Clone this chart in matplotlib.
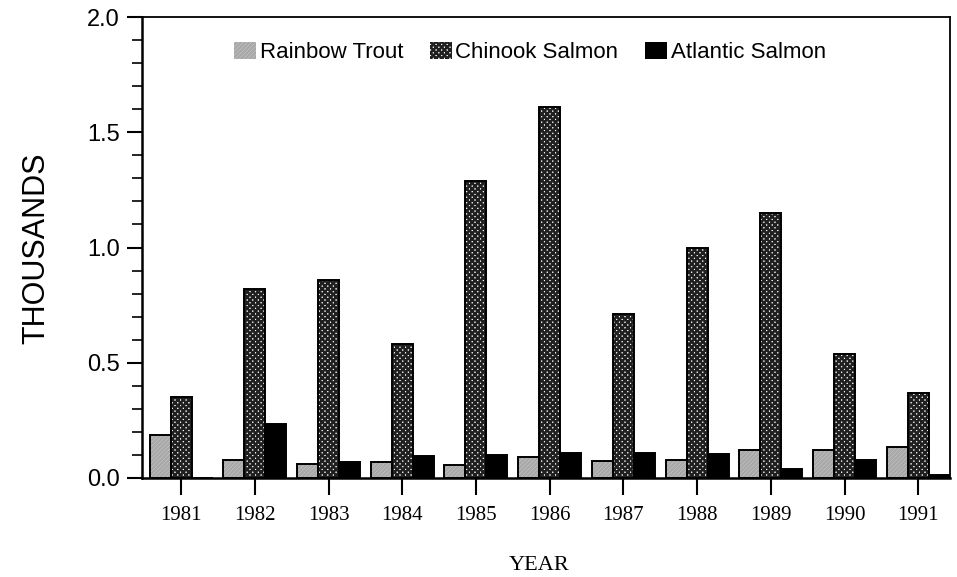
import matplotlib
matplotlib.use("Agg")
import matplotlib.pyplot as plt
import numpy as np
from matplotlib.ticker import MultipleLocator

years = ["1981", "1982", "1983", "1984", "1985", "1986", "1987", "1988", "1989", "1990", "1991"]
rainbow_trout = [0.187, 0.078, 0.060, 0.070, 0.056, 0.090, 0.074, 0.078, 0.120, 0.120, 0.135]
chinook_salmon = [0.35, 0.82, 0.86, 0.58, 1.29, 1.61, 0.71, 1.00, 1.15, 0.54, 0.37]
atlantic_salmon = [0.0, 0.234, 0.068, 0.095, 0.100, 0.108, 0.108, 0.105, 0.040, 0.080, 0.015]
series_names = ["Rainbow Trout", "Chinook Salmon", "Atlantic Salmon"]

plt.rcParams['hatch.linewidth'] = 1.8

fig = plt.figure(figsize=(9.57, 5.77), dpi=100)
ax = fig.add_axes([0.1484, 0.1716, 0.8443, 0.7989])

x = np.arange(len(years))
w = 0.285
styles = [
    dict(face="#d0d0d0", hatch="////////", hcol="#a8a8a8"),
    dict(face="#ffffff", hatch="xxxxxx", hcol="#202020"),
    dict(face="#000000", hatch=None, hcol="#000000"),
]
data = [rainbow_trout, chinook_salmon, atlantic_salmon]
handles = []
for i, (vals, st, name) in enumerate(zip(data, styles, series_names)):
    pos = x + (i - 1) * w
    ax.bar(pos, vals, width=w, color=st["face"], hatch=st["hatch"],
           edgecolor=st["hcol"], linewidth=0, zorder=2)
    ax.bar(pos, vals, width=w, facecolor="none", edgecolor="black",
           linewidth=1.4, zorder=3)
    h = plt.Rectangle((0, 0), 1, 1, facecolor=st["face"], hatch=st["hatch"],
                      edgecolor=st["hcol"], linewidth=0)
    handles.append(h)

ax.set_xlim(-0.53, 10.43)
ax.set_ylim(0, 2.0)
ax.set_xticks(x)
ax.set_xticklabels(years, family="Liberation Serif", fontsize=15)
ax.set_yticks([0, 0.5, 1.0, 1.5, 2.0])
ax.set_yticklabels(["0.0", "0.5", "1.0", "1.5", "2.0"], family="Liberation Sans", fontsize=17)
ax.yaxis.set_minor_locator(MultipleLocator(0.1))
ax.tick_params(axis="y", which="major", length=11, width=1.5, direction="out", pad=5)
ax.tick_params(axis="y", which="minor", length=7, width=1.2, direction="out")
ax.tick_params(axis="x", which="major", length=12, width=1.5, direction="out", pad=8)
for s in ax.spines.values():
    s.set_linewidth(1.3)
ax.spines["left"].set_linewidth(1.8)
ax.spines["bottom"].set_linewidth(1.8)

fig.text(0.038, 0.57, "THOUSANDS", rotation=90, ha="center", va="center",
         family="Liberation Sans", fontsize=22)
fig.text(0.563, 0.02, "YEAR", ha="center", va="center",
         family="Liberation Serif", fontsize=16)

leg = ax.legend(handles, series_names, loc="upper center", bbox_to_anchor=(0.48, 0.99),
                ncol=3, frameon=False, handlelength=1.0, handleheight=0.8,
                handletextpad=0.15, columnspacing=1.2,
                prop=dict(family="Liberation Sans", size=16))

fig.savefig("out.png", dpi=100)
